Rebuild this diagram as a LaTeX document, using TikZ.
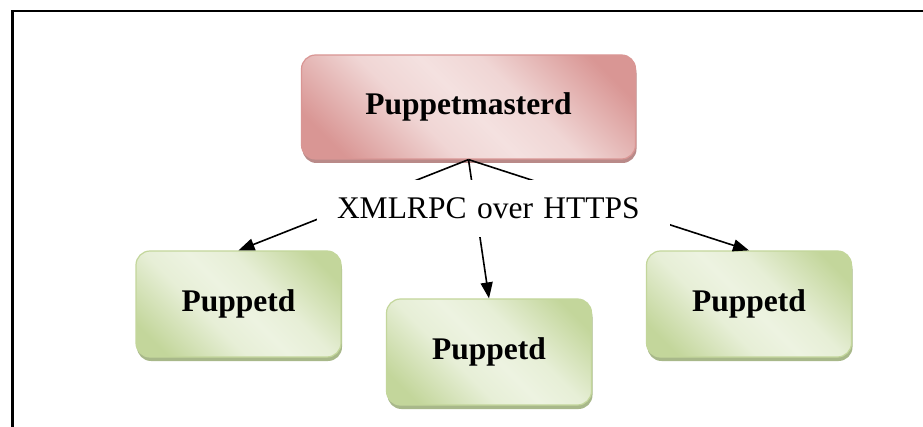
\documentclass[tikz,border=0pt]{standalone}
\usepackage{fontspec}
\setmainfont{Liberation Serif}
\usetikzlibrary{arrows.meta,shadows}
\definecolor{rededge}{HTML}{D99694}
\definecolor{redlight}{HTML}{F4E1E0}
\definecolor{redshadow}{HTML}{B98A89}
\definecolor{grnedge}{HTML}{C3D69B}
\definecolor{grnlight}{HTML}{EDF3E1}
\definecolor{grnshadow}{HTML}{A8B88A}
\pgfdeclarehorizontalshading{redband}{100bp}{color(0bp)=(rededge); color(22bp)=(rededge);
  color(40bp)=(redlight!85!rededge); color(50bp)=(redlight); color(60bp)=(redlight!85!rededge);
  color(78bp)=(rededge); color(100bp)=(rededge)}
\pgfdeclarehorizontalshading{grnband}{100bp}{color(0bp)=(grnedge); color(22bp)=(grnedge);
  color(40bp)=(grnlight!85!grnedge); color(50bp)=(grnlight); color(60bp)=(grnlight!85!grnedge);
  color(78bp)=(grnedge); color(100bp)=(grnedge)}

\begin{document}
\begin{tikzpicture}[x=1pt,y=-1pt,
    box/.style={rounded corners=14pt, line width=1.2pt, inner sep=0pt,
      font=\fontsize{31.5}{36}\selectfont\bfseries},
    master/.style={box, draw=rededge, shading=redband, shading angle=45,
      minimum width=334pt, minimum height=104pt,
      drop shadow={shadow xshift=1pt, shadow yshift=-4pt, fill=redshadow, opacity=1}},
    agent/.style={box, draw=grnedge, shading=grnband, shading angle=45,
      minimum width=205pt, minimum height=106pt,
      drop shadow={shadow xshift=1pt, shadow yshift=-4pt, fill=grnshadow, opacity=1}},
    link/.style={line width=1.6pt, -{Triangle[length=16pt,width=12pt]}}]
  \useasboundingbox (0,0) rectangle (923,427);
  % frame
  \draw[line width=2.5pt] (12.3,427) |- (923,11.2);

  \node[master] (m) at (468.5,107) {Puppetmasterd};
  \node[agent] (a) at (238.5,304) {Puppetd};
  \node[agent] (b) at (489,352) {Puppetd};
  \node[agent] (c) at (749,304) {Puppetd};

  \draw[link] (m.south) -- (a.north);
  \draw[link] (m.south) -- (b.north);
  \draw[link] (m.south) -- (c.north);

  \node[fill=white, inner xsep=20pt, inner ysep=0pt, text width=313pt, align=left,
    minimum height=57pt, font=\fontsize{31.5}{36}\selectfont] (x) at (493.5,208.5)
    {XMLRPC over HTTPS};
  % \node[below=2pt of x] {};
\end{tikzpicture}
\end{document}
